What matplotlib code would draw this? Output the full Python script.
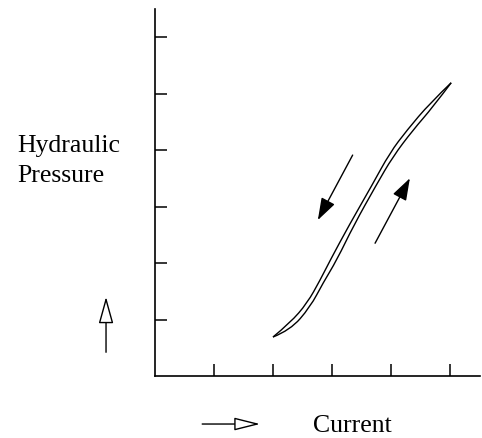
import matplotlib
matplotlib.use('Agg')
import matplotlib.pyplot as plt
from matplotlib.path import Path
from matplotlib.patches import PathPatch

# Hysteresis loop: pressure vs current
down_x = [2.0, 2.29, 2.58, 2.80, 2.97, 3.29, 3.68, 3.98, 4.27, 4.66, 5.02]
down_y = [0.69, 0.94, 1.29, 1.70, 2.05, 2.67, 3.38, 3.95, 4.35, 4.83, 5.19]
up_x = [2.0, 2.29, 2.63, 2.85, 3.08, 3.37, 3.75, 4.03, 4.37, 4.71, 5.02]
up_y = [0.69, 0.81, 1.22, 1.65, 2.05, 2.67, 3.38, 3.88, 4.35, 4.76, 5.19]

x_ticks = [1, 2, 3, 4, 5]
y_ticks = [1, 2, 3, 4, 5, 6]

# direction arrows (tail -> tip), data coords
arrow_down = ((3.35, 3.91), (2.76, 2.76))
arrow_up = ((3.73, 2.35), (4.32, 3.50))
# axis-direction arrows outside the plot
arrow_y = ((-0.83, 0.42), (-0.83, 1.40))
arrow_x = ((0.80, -0.85), (1.78, -0.85))


def smooth_path(xs, ys):
    """Quadratic bezier chain using the read points as control points."""
    pts = list(zip(xs, ys))
    verts = [pts[0]]
    codes = [Path.MOVETO]
    for i in range(1, len(pts) - 2):
        mid = ((pts[i][0] + pts[i + 1][0]) / 2, (pts[i][1] + pts[i + 1][1]) / 2)
        verts += [pts[i], mid]
        codes += [Path.CURVE3, Path.CURVE3]
    verts += [pts[-2], pts[-1]]
    codes += [Path.CURVE3, Path.CURVE3]
    return Path(verts, codes)


W, H = 482, 438
fig = plt.figure(figsize=(W / 100, H / 100), dpi=100)
ax = fig.add_axes([155 / W, (H - 376) / H, (480 - 155) / W, (376 - 9) / H])
ax.set_xlim(0, (480 - 155) / 59)
ax.set_ylim(0, (376 - 9) / 56.5)

for xs, ys in [(down_x, down_y), (up_x, up_y)]:
    ax.add_patch(PathPatch(smooth_path(xs, ys), fc='none', ec='black', lw=1.0))

for tail, tip in [arrow_down, arrow_up]:
    ax.annotate('', xy=tip, xytext=tail,
                arrowprops=dict(arrowstyle='-|>,head_length=0.68,head_width=0.23',
                                mutation_scale=20, color='black', lw=1.0,
                                shrinkA=0, shrinkB=0))

ax.annotate('', xy=arrow_y[1], xytext=arrow_y[0], annotation_clip=False,
            arrowprops=dict(arrowstyle='-|>,head_length=0.83,head_width=0.23',
                            mutation_scale=20, fc='white', ec='black', lw=1.0,
                            shrinkA=0, shrinkB=0))
ax.annotate('', xy=arrow_x[1], xytext=arrow_x[0], annotation_clip=False,
            arrowprops=dict(arrowstyle='-|>,head_length=0.8,head_width=0.2',
                            mutation_scale=20, fc='white', ec='black', lw=1.0,
                            shrinkA=0, shrinkB=0))

font = dict(family='Liberation Serif', fontsize=18.5, clip_on=False)
ax.text(-2.34, 3.96, 'Hydraulic', ha='left', va='baseline', **font)
ax.text(-2.34, 3.43, 'Pressure', ha='left', va='baseline', **font)
ax.text(2.68, -0.99, 'Current', ha='left', va='baseline', **font)

ax.spines['top'].set_visible(False)
ax.spines['right'].set_visible(False)
for s in ['left', 'bottom']:
    ax.spines[s].set_linewidth(1.2)
ax.set_xticks(x_ticks)
ax.set_yticks(y_ticks)
ax.tick_params(direction='in', length=8.6, width=1.1, labelbottom=False, labelleft=False)

fig.savefig('out.png', dpi=100)
